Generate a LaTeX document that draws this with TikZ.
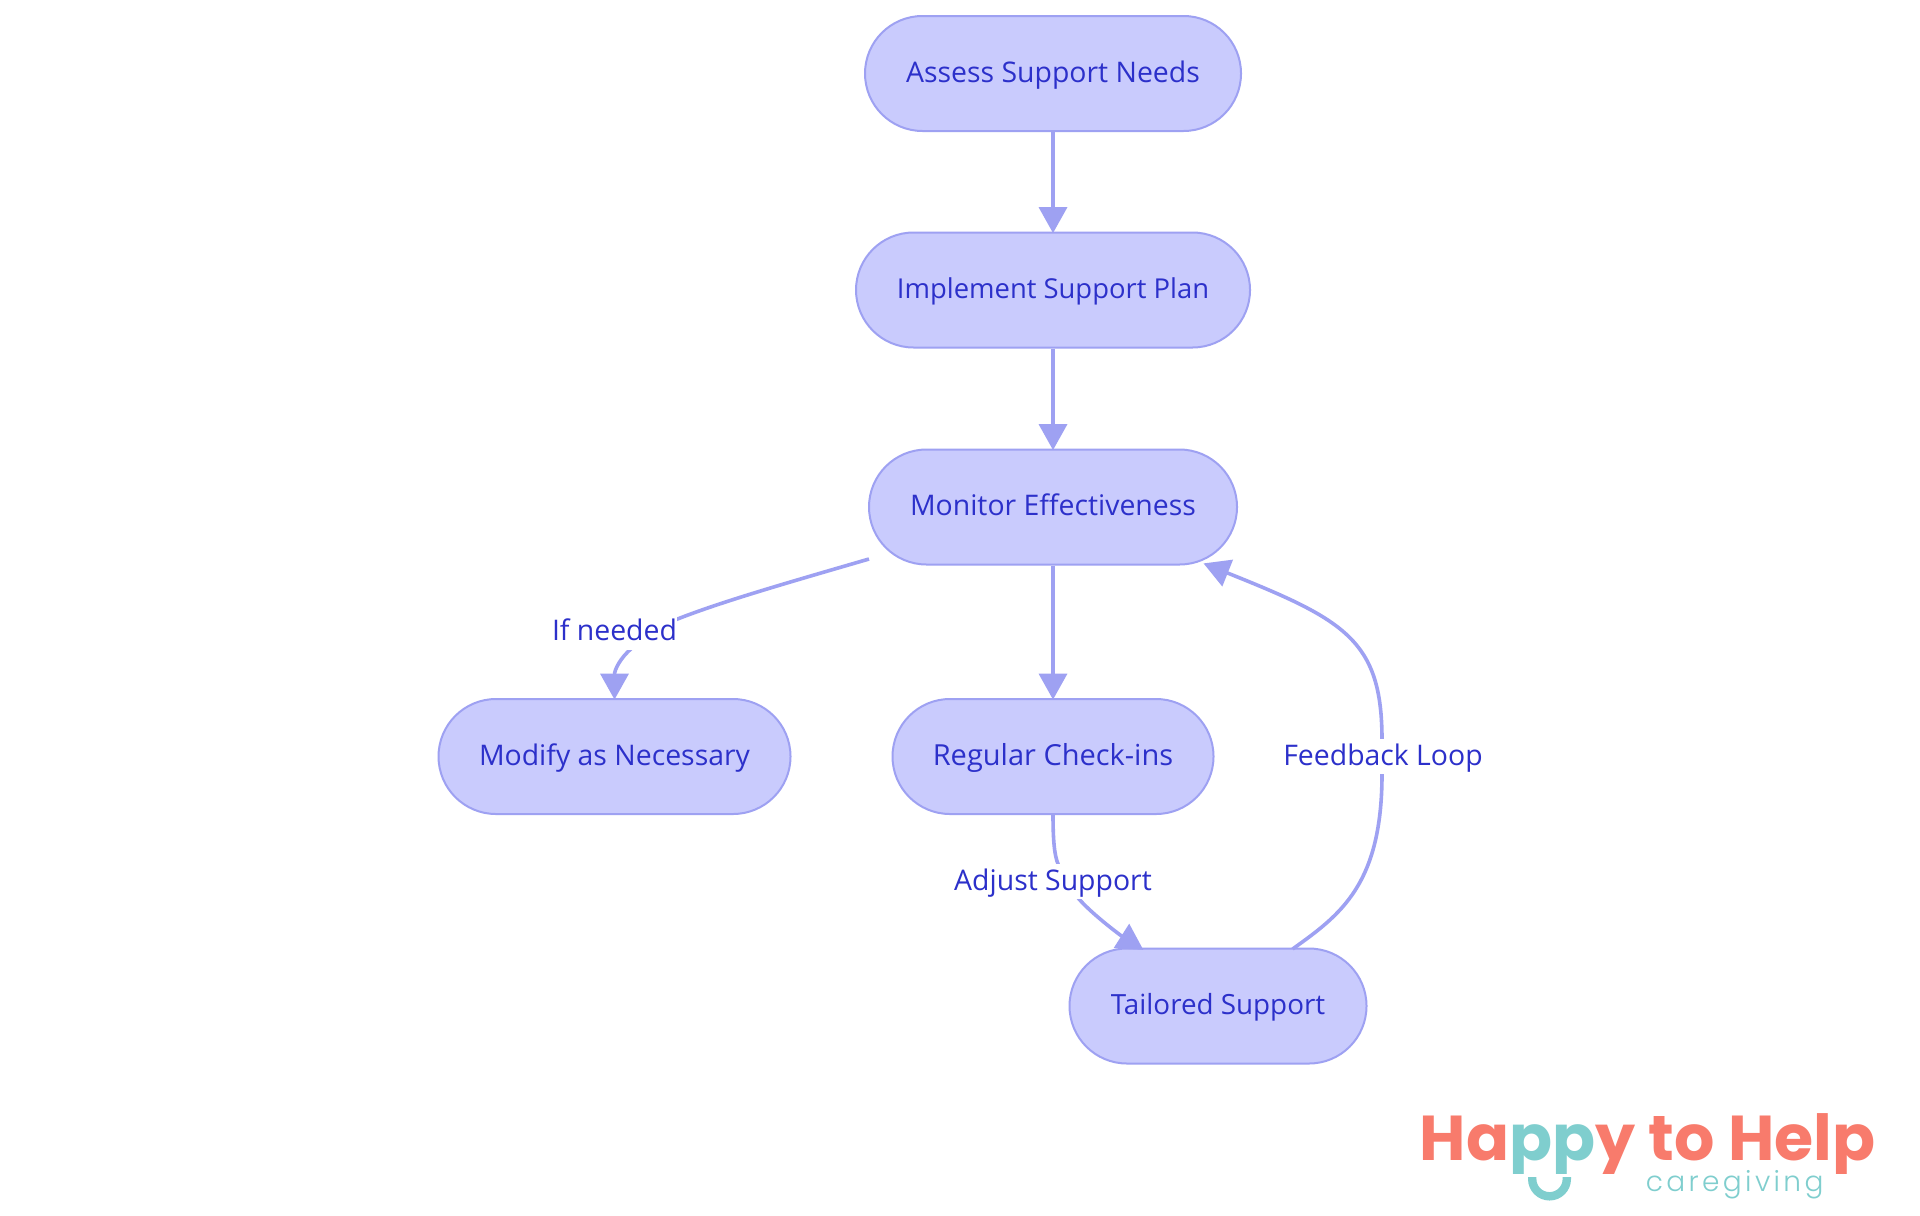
\documentclass[tikz,border=0pt]{standalone}
\usepackage{fontspec}
\usetikzlibrary{arrows.meta,shapes.misc}
\setmainfont{Open Sans}
\newfontfamily\logofont{Poppins}
\newfontfamily\sublogofont[LetterSpace=12]{Poppins Light}
\definecolor{nodefill}{HTML}{C9CBFD}
\definecolor{nodeline}{HTML}{9EA1F2}
\definecolor{inktext}{HTML}{2C30CA}
\definecolor{coral}{HTML}{F87B6C}
\definecolor{teal}{HTML}{7FCECE}
\tikzset{
  flownode/.style={rounded rectangle, draw=nodeline, fill=nodefill, line width=1pt, minimum height=57.5pt, inner sep=0pt, text=inktext, text height=12pt, text depth=3.4pt, font=\fontsize{14.2}{17}\selectfont},
  flowedge/.style={draw=nodeline, line width=1.8pt, shorten >=-0.8pt, -{Triangle[length=13pt,width=14pt]}},
  edgelabel/.style={fill=white, inner xsep=0pt, inner ysep=0pt, minimum height=17.5pt, text=inktext, text height=12pt, text depth=3.4pt, font=\fontsize{14.2}{17}\selectfont},
}
\begin{document}
\begin{tikzpicture}[x=0.5pt,y=-0.5pt]
\useasboundingbox (0,0) rectangle (1920,1215);
\fill[white] (0,0) rectangle (1920,1215);
\node[flownode, minimum width=188pt] (assess) at (1053,73.5) {Assess Support Needs};
\node[flownode, minimum width=197pt, font=\fontsize{13.7}{17}\selectfont] (impl) at (1053,290) {Implement Support Plan};
\node[flownode, minimum width=184pt] (mon) at (1053,507) {Monitor Effectiveness};
\node[flownode, minimum width=176pt] (mod) at (614.5,756.5) {Modify as Necessary};
\node[flownode, minimum width=160.5pt, font=\fontsize{14.5}{17}\selectfont] (reg) at (1053,756.5) {Regular Check-ins};
\node[flownode, minimum width=148.5pt, font=\fontsize{13.9}{17}\selectfont] (tail) at (1218,1006) {Tailored Support};
\coordinate (monout) at (869,559);
\coordinate (monin) at (1205,564);
\coordinate (tailin) at (1142,949);
\coordinate (tailout) at (1292.6,949);
\draw[flowedge] (assess.south) -- (impl.north);
\draw[flowedge] (impl.south) -- (mon.north);
\draw[flowedge] (mon.south) -- (reg.north);
\draw[flowedge] (monout) .. controls (790,582) and (720,602) .. (675,620) .. controls (660,627) and (645,638) .. (632,648) .. controls (620,658) and (614.5,670) .. (mod.north);
\draw[flowedge] (reg.south) .. controls (1053,845) and (1055,860) .. (1060,868) .. controls (1065,880) and (1072,891) .. (1079,899) .. controls (1092,914) and (1120,935) .. (tailin);
\draw[flowedge] (tailout) .. controls (1340,915) and (1382,885) .. (1382,774) -- (1382,740) .. controls (1382,640) and (1345,620) .. (monin);
\node[edgelabel] (lifneeded) at (614.5,632) {If needed};
\node[edgelabel] (ladjust) at (1053,881.5) {Adjust Support};
\node[edgelabel] (lfeedback) at (1383,756.5) {Feedback Loop};
\begin{scope}
\clip (1400,1090) rectangle (1900,1173);
\node[anchor=base west, inner sep=0pt, text=coral, font=\logofont\bfseries\fontsize{31.7}{36}\selectfont] (logomain) at (1419.5,1160) {Ha\textcolor{teal}{pp}y to Help};
\end{scope}
\node[anchor=base west, inner sep=0pt, text=teal, font={\sublogofont\fontsize{14}{16}\selectfont}] (logosub) at (1645.5,1191) {caregiving};
\draw[teal, line width=4.2pt] (1532.2,1177) -- (1532.2,1179) .. controls (1532.2,1188.6) and (1540,1196.3) .. (1549.5,1196.3) .. controls (1559,1196.3) and (1566.8,1188.6) .. (1566.8,1179) -- (1566.8,1177);
\end{tikzpicture}
\end{document}
